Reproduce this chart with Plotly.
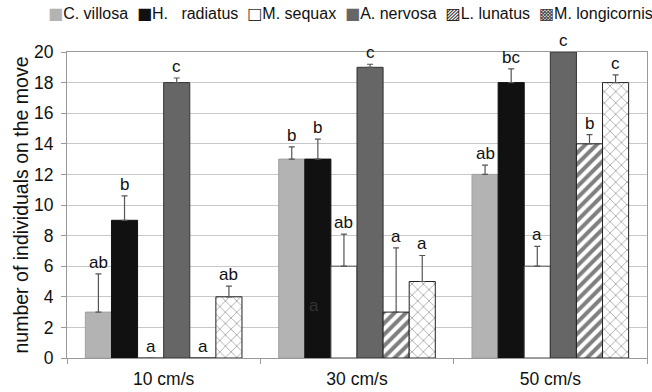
import plotly.graph_objects as go

speeds = ["10 cm/s", "30 cm/s", "50 cm/s"]
species = ["C. villosa", "H.\u00a0\u00a0 radiatus", "M. sequax", "A. nervosa", "L. lunatus", "M. longicornis"]

c_villosa = [3, 13, 12]
h_radiatus = [9, 13, 18]
m_sequax = [0, 6, 6]
a_nervosa = [18, 19, 20]
l_lunatus = [0, 3, 14]
m_longicornis = [4, 5, 18]

err_c_villosa = [2.5, 0.8, 0.6]
err_h_radiatus = [1.6, 1.3, 0.9]
err_m_sequax = [0, 2.1, 1.3]
err_a_nervosa = [0.3, 0.2, 0]
err_l_lunatus = [0, 4.2, 0.6]
err_m_longicornis = [0.7, 1.7, 0.5]

letters_c_villosa = ["ab", "b", "ab"]
letters_h_radiatus = ["b", "b", "bc"]
letters_m_sequax = ["a", "ab", "a"]
letters_a_nervosa = ["c", "c", "c"]
letters_l_lunatus = ["a", "a", "b"]
letters_m_longicornis = ["ab", "a", "c"]

values = [c_villosa, h_radiatus, m_sequax, a_nervosa, l_lunatus, m_longicornis]
errors = [err_c_villosa, err_h_radiatus, err_m_sequax, err_a_nervosa, err_l_lunatus, err_m_longicornis]
letters = [letters_c_villosa, letters_h_radiatus, letters_m_sequax, letters_a_nervosa, letters_l_lunatus, letters_m_longicornis]

fills = ["#b3b3b3", "#111111", "#ffffff", "#666666", "#ffffff", "#ffffff"]
lines = ["#a0a0a0", "#111111", "#444444", "#333333", "#222222", "#222222"]
patterns = [None, None, None, None,
            dict(shape="/", fgcolor="#000000", bgcolor="#ffffff", size=8, solidity=0.5),
            dict(shape="x", fgcolor="#333333", bgcolor="#ffffff", size=8, solidity=0.18)]
# legend swatch glyphs and colours
swatch_glyphs = ["\u25A0", "\u25A0", "\u25A1", "\u25A0", "\u25A8", "\u25A9"]
swatch_colors = ["#b3b3b3", "#111111", "#333333", "#666666", "#222222", "#444444"]

FONT = "Liberation Sans, Arial, sans-serif"
BARGAP = 0.19

fig = go.Figure()
for i, name in enumerate(species):
    marker = dict(color=fills[i], line=dict(color=lines[i], width=1))
    if patterns[i] is not None:
        marker["pattern"] = patterns[i]
    fig.add_trace(go.Bar(
        x=speeds, y=values[i], name=name, marker=marker, showlegend=False,
        error_y=dict(type="data", symmetric=False, array=errors[i],
                     arrayminus=[0, 0, 0], color="#555555", thickness=1.2, width=3),
    ))

n = len(species)
w = (1 - BARGAP) / n
annotations = []
for i in range(n):
    for g in range(len(speeds)):
        xpos = g + (i - (n - 1) / 2) * w
        top = values[i][g] + errors[i][g]
        annotations.append(dict(
            x=xpos, y=top, xref="x", yref="y", text=letters[i][g],
            showarrow=False, yanchor="bottom", yshift=0,
            font=dict(family=FONT, size=17, color="#111111"),
        ))
# stray letter drawn inside the H. radiatus bar at 30 cm/s
annotations.append(dict(
    x=1 + (1 - (n - 1) / 2) * w, y=3.4, xref="x", yref="y", text="a",
    showarrow=False, xshift=-4, font=dict(family=FONT, size=17, color="#333333"),
))

# legend line (swatch glyph + species name)
parts = []
for i, name in enumerate(species):
    parts.append("<span style='font-family:DejaVu Sans;font-size:16px;color:%s'>%s</span>%s"
                 % (swatch_colors[i], swatch_glyphs[i], name))
annotations.append(dict(
    x=-0.036, y=1.127, xref="paper", yref="paper", xanchor="left", yanchor="middle",
    text="\u00a0 ".join(parts), showarrow=False,
    font=dict(family=FONT, size=16, color="#111111"),
))

fig.update_layout(
    width=652, height=392,
    margin=dict(l=67, r=5, t=52, b=34),
    paper_bgcolor="white", plot_bgcolor="white",
    barmode="group", bargap=BARGAP, bargroupgap=0,
    font=dict(family=FONT, size=16, color="#111111"),
    showlegend=False,
    annotations=annotations,
    xaxis=dict(type="category", tickson="boundaries", ticks="outside", ticklen=5,
               tickcolor="#999999", showline=True, linecolor="#999999", mirror=True,
               ticklabelstandoff=5, automargin=False,
               tickfont=dict(family=FONT, size=17.5, color="#111111"), showgrid=False),
    yaxis=dict(range=[0, 20], dtick=2, ticks="outside", ticklen=5, tickcolor="#999999",
               showline=True, linecolor="#999999", mirror=True,
               showgrid=True, gridcolor="#c8c8c8", gridwidth=1,
               ticklabelstandoff=4, automargin=False,
               tickfont=dict(family=FONT, size=17.5, color="#111111"),
               title=dict(text="number of individuals on the move", standoff=0,
                          font=dict(family=FONT, size=19.5, color="#111111"))),
)

fig.write_html("out.html")
